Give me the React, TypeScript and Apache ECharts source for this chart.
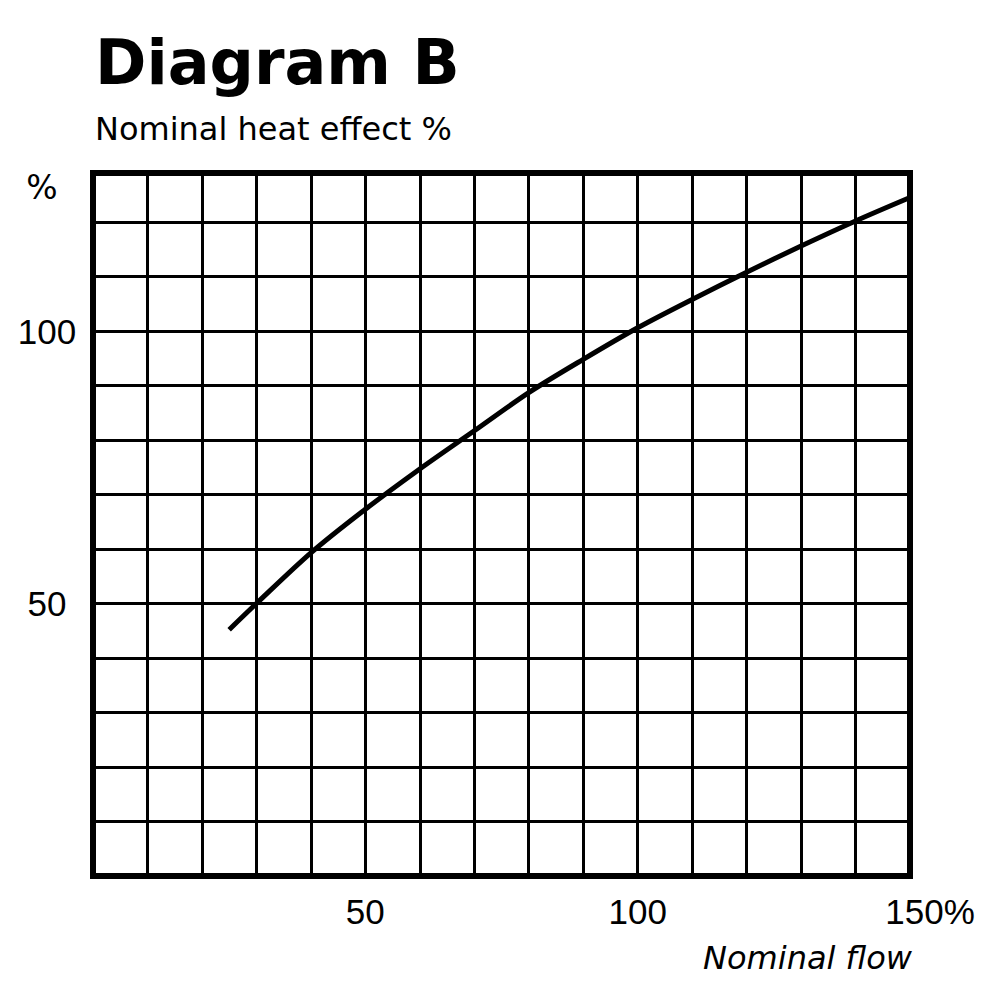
import React, { useEffect, useRef } from "react";
import * as echarts from "echarts";

const flowValues = [25, 30, 40, 50, 60, 70, 80, 90, 100, 110, 120, 130, 140, 150];
const heatValues = [45.2, 50.0, 59.3, 67.3, 74.7, 81.7, 88.7, 94.8, 100.6, 105.8, 110.8, 115.6, 120.2, 124.5];
const xTickLabels = [50, 100, 150];
const yTickLabels = [50, 100];

const FONT = "Liberation Sans";
const TEXT_FONT = "DejaVu Sans";

export default function App() {
  const ref = useRef<HTMLDivElement>(null);
  useEffect(() => {
    if (!ref.current) return;
    const chart = echarts.init(ref.current, null, { renderer: "svg" });
    const data = flowValues.map((x, i) => [x, heatValues[i]]);
    chart.setOption({
      animation: false,
      backgroundColor: "#fff",
      grid: {
        left: 93,
        right: 90,
        top: 173,
        bottom: 124,
        show: true,
        borderColor: "#000",
        borderWidth: 6,
        backgroundColor: "transparent",
      },
      xAxis: {
        type: "value",
        min: 0,
        max: 150,
        interval: 10,
        axisLine: { show: false },
        axisTick: { show: false },
        splitLine: { show: true, lineStyle: { color: "#000", width: 3 } },
        axisLabel: {
          show: true,
          margin: 18,
          color: "#000",
          fontFamily: FONT,
          fontSize: 35,
          formatter: (v: number) => {
            if (!xTickLabels.includes(v)) return "";
            if (v === 150) return "{p|150%}";
            return String(v);
          },
          rich: {
            p: { fontFamily: FONT, fontSize: 35, color: "#000", padding: [0, 0, 0, 40] },
          },
        },
      },
      yAxis: {
        type: "value",
        min: 0,
        max: 129,
        interval: 10,
        axisLine: { show: false },
        axisTick: { show: false },
        splitLine: { show: true, lineStyle: { color: "#000", width: 3 } },
        axisLabel: {
          show: true,
          margin: 46,
          align: "center",
          color: "#000",
          fontFamily: FONT,
          fontSize: 35,
          formatter: (v: number) => (yTickLabels.includes(v) ? String(v) : ""),
        },
      },
      graphic: [
        {
          type: "text",
          left: 95,
          top: 31,
          style: {
            text: "Diagram B",
            fontFamily: "DejaVu Sans",
            fontWeight: "bold",
            fontSize: 62,
            fill: "#000",
          },
        },
        {
          type: "text",
          left: 95,
          top: 113,
          style: {
            text: "Nominal heat effect %",
            fontFamily: TEXT_FONT,
            fontSize: 32,
            fill: "#000",
          },
        },
        {
          type: "text",
          x: 42,
          y: 187,
          style: {
            text: "%",
            fontFamily: TEXT_FONT,
            fontSize: 33,
            fill: "#000",
            align: "center",
            verticalAlign: "middle",
          },
        },
        {
          type: "text",
          x: 912,
          y: 958,
          style: {
            text: "Nominal flow",
            fontFamily: TEXT_FONT,
            fontStyle: "italic",
            fontSize: 32,
            fill: "#000",
            align: "right",
            verticalAlign: "middle",
          },
        },
      ],
      series: [
        {
          type: "line",
          data,
          smooth: 0.3,
          showSymbol: false,
          lineStyle: { color: "#000", width: 5 },
          z: 5,
        },
      ],
    });
    return () => chart.dispose();
  }, []);
  return (
    <div
      ref={ref}
      style={{ position: "fixed", left: 0, top: 0, width: 1000, height: 1000 }}
    />
  );
}
